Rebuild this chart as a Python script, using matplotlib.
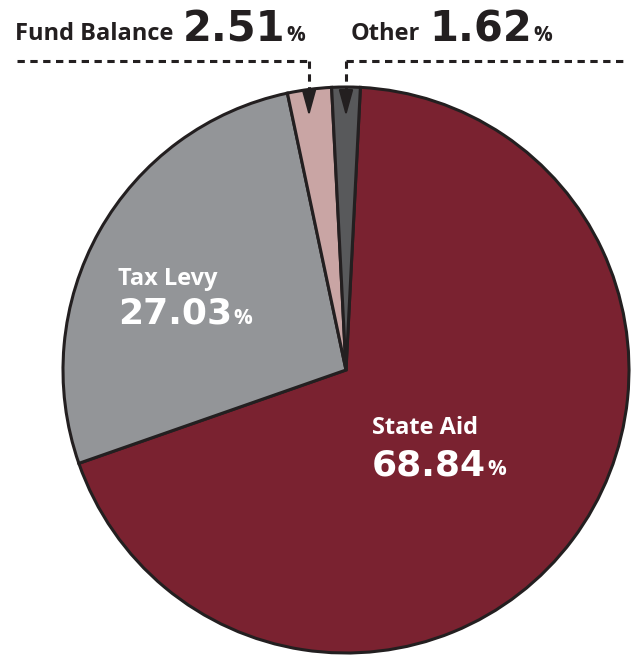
import matplotlib.pyplot as plt

# Revenue shares (percent)
labels = ['State Aid', 'Tax Levy', 'Fund Balance', 'Other']
shares = [68.84, 27.03, 2.51, 1.62]
colors = ['#7A2230', '#939598', '#C9A5A4', '#58595B']

W, H = 636, 660


def do_plot():
    fig = plt.figure(figsize=(W / 100, H / 100), dpi=100)
    ax = fig.add_axes([0, 0, 1, 1])

    cx, cy, r = 346, H - 370, 283
    start = 90 - shares[3] / 100 * 360 / 2
    ax.pie(shares, colors=colors, startangle=start, counterclock=False,
           center=(cx, cy), radius=r, frame=True,
           wedgeprops=dict(edgecolor='#231F20', linewidth=2.2))
    ax.set_xlim(0, W)
    ax.set_ylim(0, H)
    ax.set_aspect('auto')
    ax.axis('off')

    lab_font = dict(family='Open Sans', weight='bold')
    num_font = dict(family='DejaVu Sans', weight='bold')

    def right_edge(t):
        fig.canvas.draw()
        return ax.transData.inverted().transform(t.get_window_extent().extents[2:])[0]

    def entry(x, base1, base2, name, val, col, numsize, numx=None):
        t = ax.text(x, H - base1, name, color=col, fontsize=17,
                    va='baseline', ha='left', **lab_font)
        if numx is None:
            numx = x
        if numx == 'after':
            numx = right_edge(t) + 9
        n = ax.text(numx, H - base2, '%.2f' % val, color=col, fontsize=numsize,
                    va='baseline', ha='left', **num_font)
        ax.text(right_edge(n) + 1, H - base2, '%', color=col, fontsize=15,
                va='baseline', ha='left', **lab_font)

    entry(118, 285, 324, labels[1], shares[1], 'white', 26)
    entry(372, 434, 475, labels[0], shares[0], 'white', 26)
    entry(15, 40, 41, labels[2], shares[2], '#231F20', 30, 'after')
    entry(351, 40, 41, labels[3], shares[3], '#231F20', 30, 'after')

    # dashed leader lines with arrows
    ly = H - 61
    dash = dict(color='#231F20', linewidth=2.2, linestyle=(0, (2.4, 1.8)))
    ax.plot([17, 309], [ly, ly], **dash)
    ax.plot([346, 625], [ly, ly], **dash)
    for x in (309, 346):
        ax.plot([x, x], [ly, H - 104], **dash)
        ax.annotate('', xy=(x, H - 119), xytext=(x, H - 102),
                    arrowprops=dict(arrowstyle='-|>,head_length=0.8,head_width=0.22',
                                    color='#231F20', lw=1.5, mutation_scale=20))

    plt.savefig('out.png', dpi=100)


if __name__ == '__main__':
    do_plot()
